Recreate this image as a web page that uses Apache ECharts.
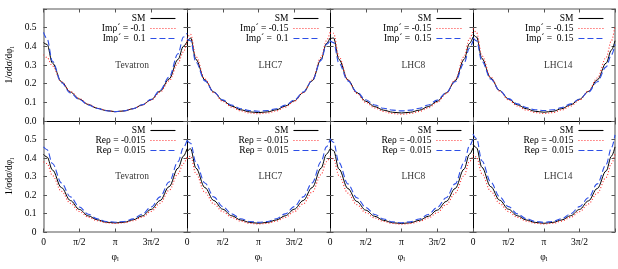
<!DOCTYPE html>
<html><head><meta charset="utf-8">
<script src="https://cdn.jsdelivr.net/npm/echarts@6/dist/echarts.min.js"></script>
<style>html,body{margin:0;padding:0;background:#fff}#c{width:618px;height:269px}</style>
</head><body><div id="c"></div><script>
// phi_l in units of pi
const phi = [0, 0.05, 0.125, 0.25, 0.375, 0.5, 0.625, 0.75, 0.875, 1, 1.125, 1.25, 1.375, 1.5, 1.625, 1.75, 1.875, 1.95, 2];

const colliders = ['Tevatron', 'LHC7', 'LHC8', 'LHC14'];
const xTickLabels = ['0', 'π/2', 'π', '3π/2'];
const yTickLabelsTop = ['0.0', '0.1', '0.2', '0.3', '0.4', '0.5'];
const yTickLabelsBottom = ['0', '0.1', '0.2', '0.3', '0.4', '0.5'];
const smName = 'SM';
const imNegNames = ['Imρ´ = -0.1', 'Imρ´ = -0.15', 'Imρ´ = -0.15', 'Imρ´ = -0.15'];
const imPosNames = ['Imρ´ =  0.1', 'Imρ´ =  0.1', 'Imρ´ =  0.15', 'Imρ´ =  0.15'];
const reNegName = 'Reρ = -0.015';
const rePosName = 'Reρ =  0.015';

// Top row: Im rho'
const tevImSM  = [0.42, 0.41, 0.31, 0.21, 0.155, 0.118, 0.088, 0.068, 0.056, 0.05, 0.054, 0.066, 0.086, 0.114, 0.16, 0.225, 0.33, 0.40, 0.425];
const tevImNeg = [0.355, 0.34, 0.295, 0.21, 0.158, 0.12, 0.089, 0.069, 0.056, 0.05, 0.054, 0.066, 0.085, 0.112, 0.155, 0.215, 0.31, 0.37, 0.43];
const tevImPos = [0.475, 0.44, 0.32, 0.205, 0.15, 0.115, 0.086, 0.067, 0.055, 0.05, 0.054, 0.066, 0.087, 0.116, 0.165, 0.235, 0.36, 0.45, 0.47];
const lhc7ImSM  = [0.42, 0.445, 0.33, 0.22, 0.155, 0.11, 0.08, 0.06, 0.049, 0.045, 0.049, 0.06, 0.08, 0.108, 0.152, 0.215, 0.33, 0.415, 0.445];
const lhc7ImNeg = [0.44, 0.465, 0.345, 0.225, 0.152, 0.105, 0.074, 0.054, 0.043, 0.039, 0.043, 0.054, 0.074, 0.105, 0.152, 0.22, 0.34, 0.43, 0.475];
const lhc7ImPos = [0.44, 0.43, 0.315, 0.215, 0.155, 0.113, 0.085, 0.066, 0.056, 0.052, 0.056, 0.066, 0.085, 0.112, 0.155, 0.215, 0.325, 0.41, 0.43];
const lhc8ImSM  = [0.44, 0.445, 0.33, 0.22, 0.152, 0.106, 0.077, 0.058, 0.047, 0.043, 0.047, 0.058, 0.077, 0.106, 0.15, 0.215, 0.33, 0.415, 0.45];
const lhc8ImNeg = [0.47, 0.47, 0.345, 0.22, 0.148, 0.1, 0.07, 0.051, 0.04, 0.036, 0.04, 0.051, 0.07, 0.1, 0.147, 0.22, 0.345, 0.44, 0.485];
const lhc8ImPos = [0.43, 0.42, 0.31, 0.215, 0.156, 0.114, 0.086, 0.068, 0.058, 0.054, 0.058, 0.068, 0.086, 0.112, 0.152, 0.21, 0.31, 0.39, 0.43];
const lhc14ImSM  = [0.465, 0.45, 0.335, 0.23, 0.163, 0.118, 0.087, 0.066, 0.052, 0.047, 0.052, 0.066, 0.087, 0.116, 0.158, 0.22, 0.31, 0.38, 0.43];
const lhc14ImNeg = [0.495, 0.475, 0.35, 0.235, 0.16, 0.113, 0.08, 0.059, 0.045, 0.04, 0.045, 0.059, 0.08, 0.112, 0.16, 0.23, 0.34, 0.43, 0.51];
const lhc14ImPos = [0.445, 0.43, 0.32, 0.225, 0.163, 0.12, 0.092, 0.072, 0.06, 0.056, 0.06, 0.072, 0.092, 0.118, 0.155, 0.21, 0.29, 0.355, 0.41];

// Bottom row: Re rho
const tevReSM  = [0.42, 0.405, 0.335, 0.24, 0.17, 0.122, 0.087, 0.066, 0.053, 0.049, 0.053, 0.066, 0.087, 0.122, 0.17, 0.245, 0.345, 0.41, 0.45];
const tevReNeg = [0.38, 0.37, 0.305, 0.22, 0.155, 0.111, 0.08, 0.061, 0.05, 0.046, 0.05, 0.061, 0.08, 0.111, 0.155, 0.225, 0.315, 0.37, 0.405];
const tevRePos = [0.46, 0.445, 0.37, 0.265, 0.19, 0.135, 0.096, 0.071, 0.057, 0.053, 0.057, 0.071, 0.096, 0.135, 0.19, 0.27, 0.38, 0.455, 0.495];
const lhc7ReSM  = [0.435, 0.45, 0.345, 0.24, 0.17, 0.123, 0.088, 0.065, 0.052, 0.047, 0.052, 0.065, 0.088, 0.123, 0.17, 0.24, 0.345, 0.42, 0.45];
const lhc7ReNeg = [0.395, 0.41, 0.315, 0.215, 0.152, 0.11, 0.079, 0.059, 0.047, 0.043, 0.047, 0.059, 0.079, 0.11, 0.152, 0.215, 0.31, 0.38, 0.405];
const lhc7RePos = [0.495, 0.48, 0.375, 0.265, 0.19, 0.137, 0.098, 0.072, 0.057, 0.052, 0.057, 0.072, 0.098, 0.137, 0.19, 0.265, 0.38, 0.46, 0.498];
const lhc8ReSM  = [0.455, 0.44, 0.34, 0.235, 0.165, 0.118, 0.085, 0.063, 0.05, 0.046, 0.05, 0.063, 0.085, 0.118, 0.165, 0.235, 0.34, 0.42, 0.455];
const lhc8ReNeg = [0.41, 0.395, 0.305, 0.21, 0.148, 0.105, 0.076, 0.057, 0.046, 0.042, 0.046, 0.057, 0.076, 0.105, 0.148, 0.21, 0.305, 0.38, 0.41];
const lhc8RePos = [0.505, 0.485, 0.375, 0.26, 0.185, 0.133, 0.095, 0.07, 0.055, 0.05, 0.055, 0.07, 0.095, 0.133, 0.185, 0.26, 0.375, 0.465, 0.505];
const lhc14ReSM  = [0.475, 0.455, 0.35, 0.245, 0.172, 0.123, 0.088, 0.065, 0.052, 0.047, 0.052, 0.065, 0.088, 0.122, 0.168, 0.235, 0.33, 0.41, 0.46];
const lhc14ReNeg = [0.42, 0.405, 0.315, 0.22, 0.155, 0.11, 0.079, 0.059, 0.047, 0.043, 0.047, 0.059, 0.079, 0.11, 0.152, 0.21, 0.295, 0.37, 0.42];
const lhc14RePos = [0.53, 0.505, 0.385, 0.27, 0.19, 0.137, 0.098, 0.072, 0.057, 0.052, 0.057, 0.072, 0.098, 0.137, 0.185, 0.26, 0.365, 0.455, 0.525];

const panels = [
  [[tevImSM, tevImNeg, tevImPos], [lhc7ImSM, lhc7ImNeg, lhc7ImPos], [lhc8ImSM, lhc8ImNeg, lhc8ImPos], [lhc14ImSM, lhc14ImNeg, lhc14ImPos]],
  [[tevReSM, tevReNeg, tevRePos], [lhc7ReSM, lhc7ReNeg, lhc7RePos], [lhc8ReSM, lhc8ReNeg, lhc8RePos], [lhc14ReSM, lhc14ReNeg, lhc14RePos]]
];

const FONT = '"Liberation Serif", "DejaVu Serif", serif';
const W = 618;
const colLeft = [43.5, 187, 330, 473];
const colWidth = [143.5, 143, 143, 142];
const rowTop = [9, 121];
const rowHeight = [112, 111];
const FRAME = '#8f8f8f', INNER = '#000', TICK = '#555';
const styles = [
  { color: '#000', type: 'solid', width: 1 },
  { color: '#ff2a2a', type: [1, 2], width: 1.1 },
  { color: '#2d4fe6', type: [6, 3], width: 1.1 }
];

const grid = [], xAxis = [], yAxis = [], series = [], legend = [];
let g = 0;
for (let r = 0; r < 2; r++) {
  for (let c = 0; c < 4; c++) {
    grid.push({ left: colLeft[c], top: rowTop[r], width: colWidth[c], height: rowHeight[r] });
    const tick = { show: true, inside: true, length: 3.5, lineStyle: { color: TICK, width: 1 } };
    // bottom x
    xAxis.push({
      gridIndex: g, type: 'value', min: 0, max: 2, interval: 0.5, position: 'bottom',
      axisLine: { show: true, onZero: false, lineStyle: { color: r === 1 ? FRAME : INNER, width: r === 1 ? 1.6 : 1 } },
      axisTick: tick, splitLine: { show: false },
      axisLabel: { show: r === 1, margin: 5, fontSize: 9.5, fontFamily: FONT, color: '#000',
        formatter: v => { const i = Math.round(v / 0.5); return i < 4 ? xTickLabels[i] : ''; } },
      name: r === 1 ? 'φ{s|l}' : '', nameLocation: 'middle', nameGap: 19,
      nameTextStyle: { fontSize: 9.5, fontFamily: FONT, color: '#000', rich: { s: { fontSize: 6.5, fontFamily: FONT, padding: [5, 0, 0, 0] } } }
    });
    // top x
    xAxis.push({
      gridIndex: g, type: 'value', min: 0, max: 2, interval: 0.5, position: 'top',
      axisLine: { show: true, onZero: false, lineStyle: { color: r === 0 ? FRAME : INNER, width: r === 0 ? 1.6 : 1 } },
      axisTick: tick, splitLine: { show: false }, axisLabel: { show: false }
    });
    const yLabels = r === 0 ? yTickLabelsTop : yTickLabelsBottom;
    yAxis.push({
      gridIndex: g, type: 'value', min: 0, max: 0.6, interval: 0.1, position: 'left',
      axisLine: { show: true, onZero: false, lineStyle: { color: c === 0 ? FRAME : INNER, width: c === 0 ? 1.6 : 1 } },
      axisTick: tick, splitLine: { show: false },
      axisLabel: { show: c === 0, margin: 7, fontSize: 9.5, fontFamily: FONT, color: '#000',
        formatter: v => { const i = Math.round(v * 10); return i <= 5 ? yLabels[i] : ''; } },
      name: c === 0 ? '1/σdσ/dφ{s|l}' : '', nameLocation: 'middle', nameRotate: 90, nameGap: 28,
      nameTextStyle: { fontSize: 9.5, fontFamily: FONT, color: '#000', rich: { s: { fontSize: 6.5, fontFamily: FONT, padding: [5, 0, 0, 0] } } }
    });
    yAxis.push({
      gridIndex: g, type: 'value', min: 0, max: 0.6, interval: 0.1, position: 'right',
      axisLine: { show: true, onZero: false, lineStyle: { color: c === 3 ? FRAME : INNER, width: c === 3 ? 1.6 : 1 } },
      axisTick: tick, splitLine: { show: false }, axisLabel: { show: false }
    });
    const names = r === 0 ? [smName, imNegNames[c], imPosNames[c]] : [smName, reNegName, rePosName];
    panels[r][c].forEach((vals, k) => {
      series.push({
        type: 'line', name: names[k], xAxisIndex: 2 * g, yAxisIndex: 2 * g,
        data: phi.map((p, i) => [p, vals[i]]),
        symbol: 'none', smooth: 0.35, smoothMonotone: 'x', silent: true,
        lineStyle: styles[k], itemStyle: { color: styles[k].color }, z: 2 + k
      });
    });
    series.push({
      type: 'scatter', name: colliders[c], xAxisIndex: 2 * g, yAxisIndex: 2 * g,
      data: [[1, 0.3]], symbolSize: 0, silent: true,
      label: { show: true, position: 'right', distance: 0, formatter: colliders[c],
        fontSize: 9.5, fontFamily: FONT, color: '#000' }
    });
    legend.push({
      orient: 'vertical', align: 'right', selectedMode: false,
      right: W - (colLeft[c] + colWidth[c] - 11), top: rowTop[r] + 4.5,
      itemWidth: 25, itemHeight: 6, itemGap: 0, padding: 0,
      itemStyle: { color: 'rgba(0,0,0,0)', borderWidth: 0, opacity: 0 },
      lineStyle: { width: 1.1 },
      textStyle: { fontSize: 9.5, lineHeight: 9, height: 9, fontFamily: FONT, color: '#000' },
      data: names
    });
    g++;
  }
}

const chart = echarts.init(document.getElementById('c'), null, { renderer: 'canvas' });
chart.setOption({ animation: false, backgroundColor: '#fff', grid, xAxis, yAxis, series, legend });
</script></body></html>
